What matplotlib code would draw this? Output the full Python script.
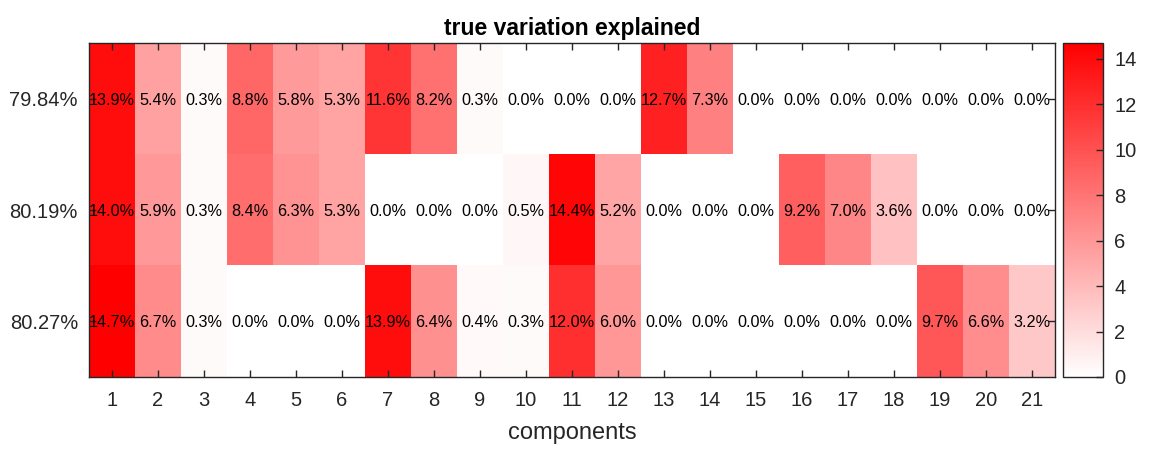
import numpy as np
import matplotlib
matplotlib.use("Agg")
import matplotlib.pyplot as plt
from matplotlib.colors import LinearSegmentedColormap

plt.rcParams['font.family'] = ['Liberation Sans', 'DejaVu Sans']

row_labels = ["79.84%", "80.19%", "80.27%"]
components = list(range(1, 22))
row1 = [13.9, 5.4, 0.3, 8.8, 5.8, 5.3, 11.6, 8.2, 0.3, 0.0, 0.0, 0.0, 12.7, 7.3, 0.0, 0.0, 0.0, 0.0, 0.0, 0.0, 0.0]
row2 = [14.0, 5.9, 0.3, 8.4, 6.3, 5.3, 0.0, 0.0, 0.0, 0.5, 14.4, 5.2, 0.0, 0.0, 0.0, 9.2, 7.0, 3.6, 0.0, 0.0, 0.0]
row3 = [14.7, 6.7, 0.3, 0.0, 0.0, 0.0, 13.9, 6.4, 0.4, 0.3, 12.0, 6.0, 0.0, 0.0, 0.0, 0.0, 0.0, 0.0, 9.7, 6.6, 3.2]
data = np.array([row1, row2, row3])

cmap = LinearSegmentedColormap.from_list("wr", ["#ffffff", "#ff0000"])

fig = plt.figure(figsize=(11.49, 4.57), dpi=100)
ax = fig.add_axes([89/1149, 1-377/457, (1055-89)/1149, (377-43)/457])
cax = fig.add_axes([1063/1149, 1-377/457, (1103-1063)/1149, (377-43)/457])

vmax = data.max()
im = ax.imshow(data, cmap=cmap, vmin=0, vmax=vmax, aspect='auto',
               extent=[0.5, 21.5, 3.5, 0.5], interpolation='nearest')

for i in range(data.shape[0]):
    for j in range(data.shape[1]):
        ax.text(components[j], i + 1, f"{data[i, j]:.1f}%", ha='center', va='center_baseline',
                fontsize=11.7, color='black')

ax.set_xticks(components)
ax.set_xticklabels([str(c) for c in components])
ax.set_yticks([1, 2, 3])
ax.set_yticklabels(row_labels)
ax.set_xlim(0.5, 21.5)
ax.set_ylim(3.5, 0.5)
ax.tick_params(direction='in', top=True, right=True, length=5, width=1,
               color='#262626', labelsize=14.5, labelcolor='#262626', pad=10)
ax.tick_params(axis='y', pad=8)
for s in ax.spines.values():
    s.set_color('#262626')
    s.set_linewidth(1)
ax.set_title("true variation explained", fontsize=16.5, fontweight='bold', pad=6)
ax.set_xlabel("components", fontsize=17, color='#262626', labelpad=9)

cb = fig.colorbar(im, cax=cax)
cb.set_ticks([0, 2, 4, 6, 8, 10, 12, 14])
cax.tick_params(direction='in', length=5, width=1, color='#262626', labelsize=14.5,
                labelcolor='#262626', pad=8)
cb.outline.set_edgecolor('#262626')
cb.outline.set_linewidth(1)

fig.savefig("out.png", dpi=100)
